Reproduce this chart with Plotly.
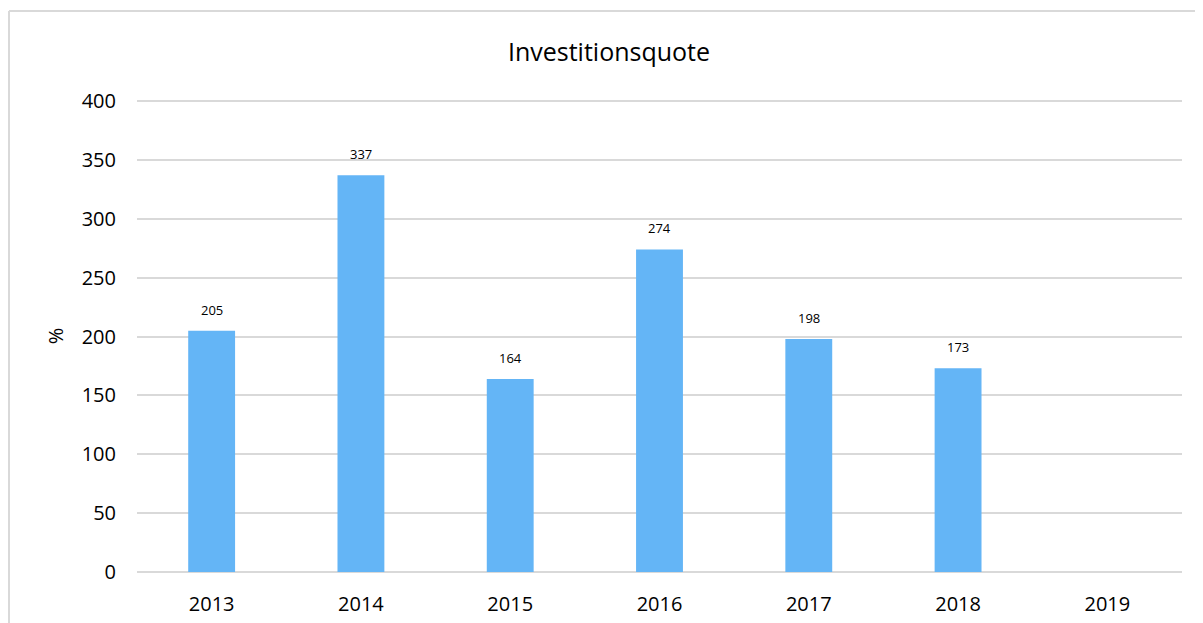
import plotly.graph_objects as go

years = ["2013", "2014", "2015", "2016", "2017", "2018", "2019"]
values = [205, 337, 164, 274, 198, 173, None]
y_ticks = [0, 50, 100, 150, 200, 250, 300, 350, 400]

FONT = "Open Sans"
fig = go.Figure()
fig.add_trace(go.Bar(
    x=list(range(len(years))), y=values,
    marker=dict(color="#64B5F6", line=dict(width=0)),
    hoverinfo="y",
))

for i, v in enumerate(values):
    if v is not None:
        fig.add_annotation(x=i, y=v, text=str(v), showarrow=False,
                           yanchor="bottom", yshift=10,
                           font=dict(family=FONT, size=13, color="#000000"))

# page body has an 8px margin, so the figure is sized to fill the rest
W, H = 1195, 615
L, R, T, B = 129, 21, 92, 51
pw, ph = W - L - R, H - T - B
bx = (1 - L) / pw
by = (H - B - 3) / ph
fig.add_shape(type="line", xref="paper", yref="paper",
              x0=bx, x1=bx, y0=-0.5, y1=by,
              line=dict(color="#d9d9d9", width=2))
fig.add_shape(type="line", xref="paper", yref="paper",
              x0=bx, x1=1.2, y0=by, y1=by,
              line=dict(color="#d9d9d9", width=2))

fig.update_layout(
    width=W, height=H,
    margin=dict(l=L, r=R, t=T, b=B, autoexpand=False),
    paper_bgcolor="white", plot_bgcolor="white",
    bargap=0.686,
    showlegend=False,
    title=dict(text="Investitionsquote", x=601 / W, xanchor="center",
               y=1 - 44 / H, yanchor="middle",
               font=dict(family=FONT, size=25, color="#000000")),
    font=dict(family=FONT, color="#000000"),
)
fig.update_xaxes(range=[-0.5, len(years) - 0.5], tickvals=list(range(len(years))),
                 ticktext=years, showgrid=False, showline=False, zeroline=False,
                 ticks="", tickfont=dict(family=FONT, size=20, color="#000000"),
                 ticklabelstandoff=18, automargin=False)
fig.update_yaxes(range=[0, 401], tickvals=y_ticks, showgrid=True,
                 gridcolor="#d9d9d9", gridwidth=1.5, zeroline=True,
                 zerolinecolor="#d9d9d9", zerolinewidth=2, showline=False,
                 ticks="", tickfont=dict(family=FONT, size=20, color="#000000"),
                 ticklabelstandoff=20, automargin=False,
                 title=dict(text="%", font=dict(family=FONT, size=20, color="#000000"),
                            standoff=12))

fig.write_html("out.html")
